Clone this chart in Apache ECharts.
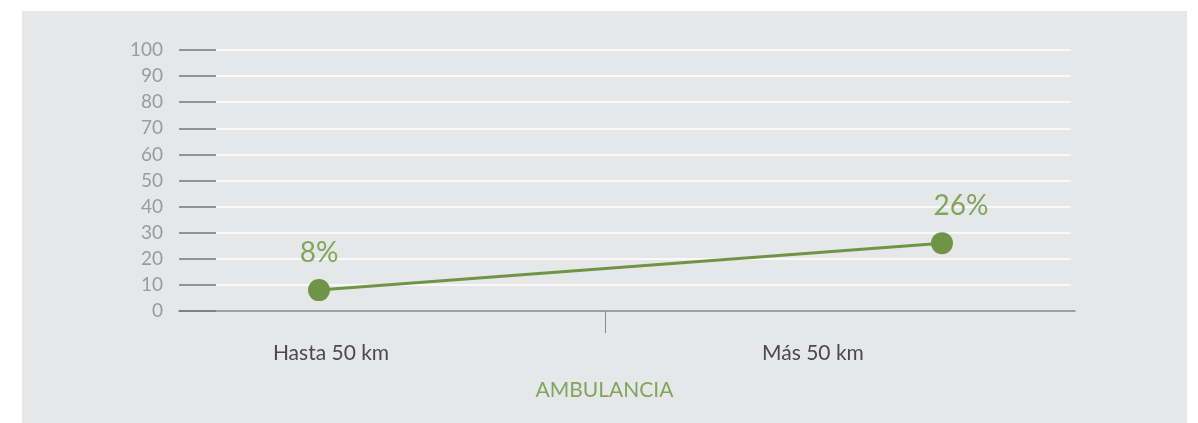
<!DOCTYPE html>
<html>
<head>
<meta charset="utf-8">
<script src="https://cdn.jsdelivr.net/npm/echarts@6/dist/echarts.min.js"></script>
<style>
  html, body { margin: 0; padding: 0; background: #ffffff; width: 1198px; height: 423px; overflow: hidden; }
  #chart { position: absolute; left: 22px; top: 11px; width: 1165px; height: 412px; background: #e6e7e9; }
</style>
</head>
<body>
<div id="chart"></div>
<script>
// ---- data ----
const categories = ['Hasta 50 km', 'Más 50 km'];
const values = [8, 26];
const valueLabels = ['8%', '26%'];
const yTicks = [0, 10, 20, 30, 40, 50, 60, 70, 80, 90, 100];
const axisTitle = 'AMBULANCIA';

const GREEN = '#6e9546';
const LABEL_GREEN = '#80a65c';
const FONT = 'Lato, "Noto Sans", sans-serif';

const chart = echarts.init(document.getElementById('chart'), null, { renderer: 'canvas' });

const labelOffsets = [[0, 0], [19, 0]];

chart.setOption({
  animation: false,
  title: {
    text: axisTitle,
    left: 'center',
    top: 369,
    padding: 0,
    textStyle: { color: LABEL_GREEN, fontSize: 21, fontWeight: 'normal', fontFamily: FONT }
  },
  grid: [
    { left: 157, right: 112, top: 39, bottom: 112 },
    { left: 194, right: 116, top: 39, bottom: 112 }
  ],
  xAxis: [
    {
      type: 'value',
      gridIndex: 0,
      min: -0.2247,
      max: 1.2135,
      splitLine: { show: false },
      axisLine: { show: true, onZero: false, lineStyle: { color: '#88898d', width: 1.5 } },
      axisTick: {
        show: true,
        length: 22,
        customValues: [0.4591],
        lineStyle: { color: '#88898d', width: 1 }
      },
      axisLabel: {
        show: true,
        customValues: [0.0193, 0.7929],
        margin: 32,
        color: '#4a4a4c',
        fontSize: 21,
        fontFamily: FONT,
        formatter: function (v) { return v < 0.4591 ? categories[0] : categories[1]; }
      }
    },
    {
      type: 'value',
      gridIndex: 1,
      show: false,
      min: 0,
      max: 1
    }
  ],
  yAxis: [
    {
      type: 'value',
      gridIndex: 0,
      min: yTicks[0],
      max: yTicks[yTicks.length - 1],
      interval: yTicks[1] - yTicks[0],
      axisLine: { show: false, onZero: false },
      splitLine: { show: false },
      axisTick: {
        show: true,
        inside: true,
        length: 37,
        lineStyle: { color: '#77787c', width: 1.5 }
      },
      axisLabel: {
        margin: 16,
        color: '#9a9ba0',
        fontSize: 19,
        fontFamily: FONT
      }
    },
    {
      type: 'value',
      gridIndex: 1,
      min: yTicks[0],
      max: yTicks[yTicks.length - 1],
      interval: yTicks[1] - yTicks[0],
      axisLine: { show: false, onZero: false },
      axisTick: { show: false },
      axisLabel: { show: false },
      splitLine: { show: true, showMinLine: false, lineStyle: { color: '#ffffff', width: 1.5 } }
    }
  ],
  series: [
    {
      type: 'line',
      xAxisIndex: 0,
      yAxisIndex: 0,
      data: values.map((v, i) => ({
        value: [i, v],
        label: { offset: labelOffsets[i] }
      })),
      symbol: 'circle',
      symbolSize: 22,
      itemStyle: { color: GREEN },
      lineStyle: { color: GREEN, width: 3 },
      label: {
        show: true,
        position: 'top',
        distance: 12,
        color: LABEL_GREEN,
        fontSize: 28,
        fontFamily: FONT,
        formatter: function (p) { return valueLabels[p.dataIndex]; }
      }
    }
  ]
});
</script>
</body>
</html>
